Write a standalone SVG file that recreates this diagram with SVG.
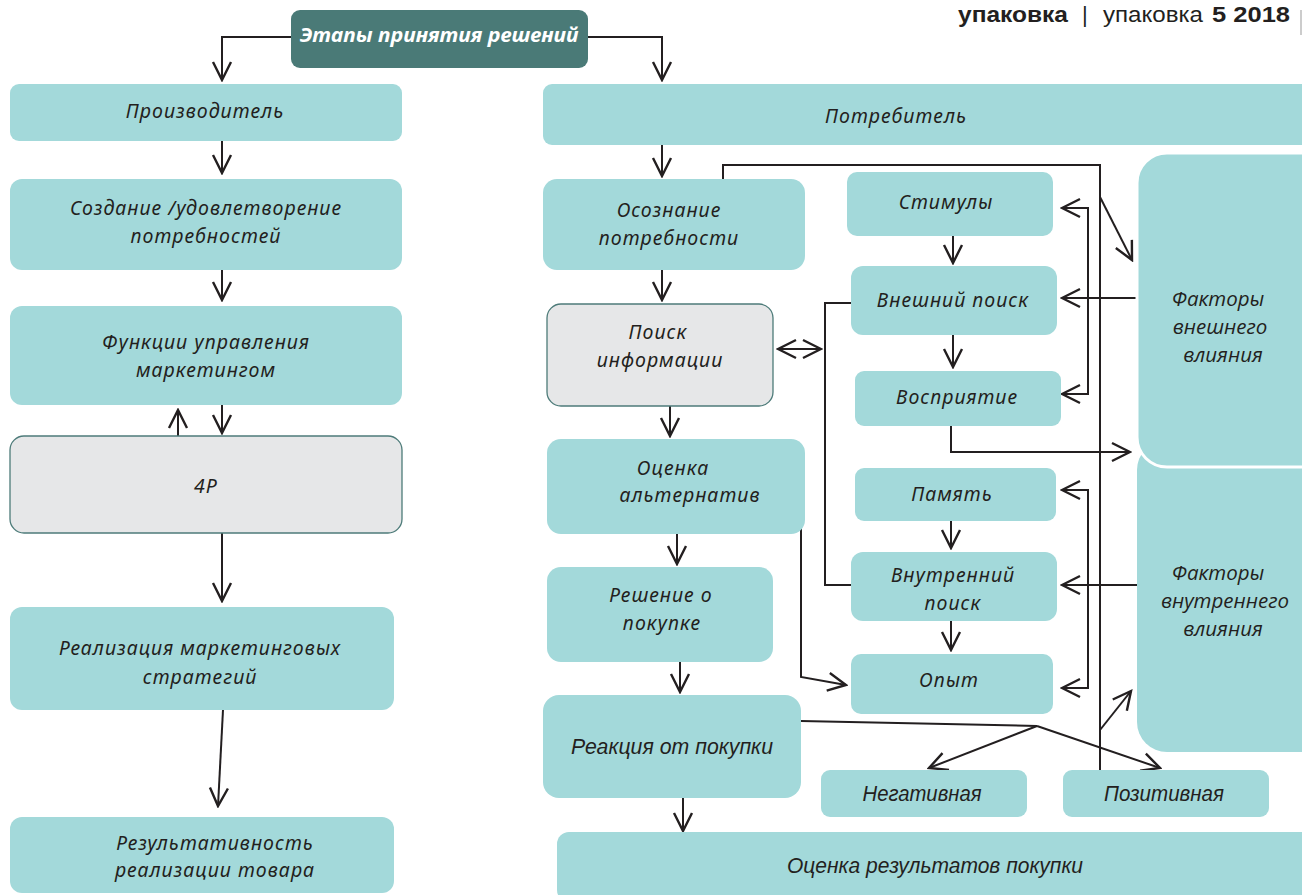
<svg xmlns="http://www.w3.org/2000/svg" width="1302" height="895" viewBox="0 0 1302 895">
<style>
.box{fill:#a3d9da;}
.gray{fill:#e6e7e8;stroke:#4d7b79;stroke-width:1.3;}
.t{font-family:"Noto Sans","Open Sans",sans-serif;font-style:italic;font-size:19.5px;letter-spacing:1px;fill:#231f20;text-anchor:middle;}
.c{font-family:"Liberation Sans","DejaVu Sans",sans-serif;font-style:italic;font-size:22px;fill:#231f20;text-anchor:middle;}
.f{font-family:"Open Sans","Noto Sans",sans-serif;font-style:italic;font-size:20.5px;fill:#231f20;text-anchor:middle;}
.ln{fill:none;stroke:#231f20;stroke-width:2;}
.hd{font-family:"Liberation Sans",sans-serif;font-size:22px;fill:#231f20;}
</style>
<defs>
<marker id="a" markerUnits="userSpaceOnUse" markerWidth="24" markerHeight="24" viewBox="-18 -10 20 20" refX="0" refY="0" orient="auto-start-reverse">
<path d="M-15,-7.5 L0,0 L-15,7.5" fill="none" stroke="#231f20" stroke-width="2"/>
</marker>
</defs>
<rect width="1302" height="895" fill="#ffffff"/>

<g id="header">
<text class="hd" x="958" y="22" font-weight="bold" textLength="110" lengthAdjust="spacingAndGlyphs">упаковка</text>
<text class="hd" x="1082" y="22">|</text>
<text class="hd" x="1103" y="22" textLength="100" lengthAdjust="spacingAndGlyphs">упаковка</text>
<text class="hd" x="1212" y="22" font-weight="bold" textLength="78" lengthAdjust="spacingAndGlyphs">5 2018</text>
<line x1="1301" y1="10" x2="1301" y2="35" stroke="#bbbbbb" stroke-width="1.5"/>
</g>

<g id="connectors">
<path class="ln" d="M291,37 H222 V80" marker-end="url(#a)"/>
<path class="ln" d="M588,37 H662 V80" marker-end="url(#a)"/>
<path class="ln" d="M222,141 V173" marker-end="url(#a)"/>
<path class="ln" d="M222,270 V300" marker-end="url(#a)"/>
<path class="ln" d="M222,405 V433" marker-end="url(#a)"/>
<path class="ln" d="M178,436 V410" marker-end="url(#a)"/>
<path class="ln" d="M222,533 V601" marker-end="url(#a)"/>
<path class="ln" d="M223,710 L218,806" marker-end="url(#a)"/>
<path class="ln" d="M662,145 V176" marker-end="url(#a)"/>
<path class="ln" d="M662,270 V300" marker-end="url(#a)"/>
<path class="ln" d="M670,406 V436" marker-end="url(#a)"/>
<path class="ln" d="M677,534 V564" marker-end="url(#a)"/>
<path class="ln" d="M680,662 V692" marker-end="url(#a)"/>
<path class="ln" d="M683,798 V831" marker-end="url(#a)"/>
<path class="ln" d="M723,179 V165 H1100 V770"/>
<path class="ln" d="M1100,197 L1132,260" marker-end="url(#a)"/>
<path class="ln" d="M953,236 V263" marker-end="url(#a)"/>
<path class="ln" d="M953,335 V367" marker-end="url(#a)"/>
<path class="ln" d="M1062,208 H1088 V394 H1062" marker-start="url(#a)" marker-end="url(#a)"/>
<path class="ln" d="M1137,298 H1062" marker-end="url(#a)"/>
<path class="ln" d="M951,426 V452 H1130" marker-end="url(#a)"/>
<path class="ln" d="M951,521 V548" marker-end="url(#a)"/>
<path class="ln" d="M951,621 V650" marker-end="url(#a)"/>
<path class="ln" d="M1062,490 H1088 V688 H1062" marker-start="url(#a)" marker-end="url(#a)"/>
<path class="ln" d="M1137,585 H1062" marker-end="url(#a)"/>
<path class="ln" d="M1100,730 L1131,691" marker-end="url(#a)"/>
<path class="ln" d="M801,721 L1037,726"/>
<path class="ln" d="M1037,726 L929,768" marker-end="url(#a)"/>
<path class="ln" d="M1037,726 L1160,768" marker-end="url(#a)"/>
<path class="ln" d="M801,528 V677 L846,685" marker-end="url(#a)"/>
<path class="ln" d="M778,349 H821" marker-start="url(#a)" marker-end="url(#a)"/>
<path class="ln" d="M851,303 H825 V585 H851"/>
</g>

<g id="title">
<rect x="291" y="10" width="297" height="58" rx="9" fill="#4a7a77"/>
<text x="439" y="42" font-family="Noto Sans,sans-serif" font-style="italic" font-weight="bold" font-size="19" fill="#ffffff" text-anchor="middle" textLength="279" lengthAdjust="spacingAndGlyphs">Этапы принятия решений</text>
</g>

<g id="proizvoditel"><rect class="box" x="10" y="84" width="392" height="57" rx="9"/><text class="t" x="205" y="118">Производитель</text></g>
<g id="sozdanie"><rect class="box" x="10" y="179" width="392" height="91" rx="12"/><text class="t" x="206" y="215">Создание /удовлетворение</text><text class="t" x="206" y="243">потребностей</text></g>
<g id="funkcii"><rect class="box" x="10" y="306" width="392" height="99" rx="12"/><text class="t" x="206" y="349">Функции  управления</text><text class="t" x="206" y="377">маркетингом</text></g>
<g id="p4"><rect class="gray" x="10" y="436" width="392" height="97" rx="14"/><text class="t" x="206" y="493">4P</text></g>
<g id="realizaciya"><rect class="box" x="10" y="607" width="384" height="103" rx="12"/><text class="t" x="200" y="655">Реализация маркетинговых</text><text class="t" x="200" y="684">стратегий</text></g>
<g id="rezultativnost"><rect class="box" x="10" y="817" width="384" height="76" rx="12"/><text class="t" x="215" y="850">Результативность</text><text class="t" x="215" y="877">реализации товара</text></g>

<g id="potrebitel"><rect class="box" x="543" y="84" width="790" height="61" rx="9"/><text class="t" x="896" y="123">Потребитель</text></g>
<g id="osoznanie"><rect class="box" x="543" y="179" width="262" height="91" rx="14"/><text class="t" x="669" y="217">Осознание</text><text class="t" x="669" y="245">потребности</text></g>
<g id="poisk"><rect class="gray" x="547" y="304" width="226" height="102" rx="14"/><text class="t" x="658" y="339">Поиск</text><text class="t" x="660" y="367">информации</text></g>
<g id="ocenka-alt"><rect class="box" x="547" y="439" width="258" height="95" rx="14"/><text class="t" x="673" y="475">Оценка</text><text class="t" x="690" y="502">альтернатив</text></g>
<g id="reshenie"><rect class="box" x="547" y="567" width="226" height="95" rx="14"/><text class="t" x="661" y="602">Решение  о</text><text class="t" x="662" y="630">покупке</text></g>
<g id="reakciya"><rect class="box" x="543" y="695" width="258" height="103" rx="16"/><text class="c" x="672" y="754" textLength="202" lengthAdjust="spacingAndGlyphs">Реакция  от покупки</text></g>
<g id="ocenka-rez"><rect class="box" x="557" y="832" width="776" height="70" rx="12"/><text class="c" x="935" y="873" textLength="296" lengthAdjust="spacingAndGlyphs">Оценка  результатов покупки</text></g>

<g id="stimuly"><rect class="box" x="847" y="172" width="206" height="64" rx="10"/><text class="t" x="946" y="209">Стимулы</text></g>
<g id="vneshniy"><rect class="box" x="851" y="266" width="206" height="69" rx="12"/><text class="t" x="953" y="307">Внешний  поиск</text></g>
<g id="vospriyatie"><rect class="box" x="855" y="371" width="206" height="55" rx="9"/><text class="t" x="957" y="404">Восприятие</text></g>
<g id="pamyat"><rect class="box" x="855" y="468" width="201" height="53" rx="9"/><text class="t" x="952" y="501">Память</text></g>
<g id="vnutrenniy"><rect class="box" x="851" y="552" width="206" height="69" rx="12"/><text class="t" x="953" y="582">Внутренний</text><text class="t" x="953" y="610">поиск</text></g>
<g id="opyt"><rect class="box" x="851" y="654" width="202" height="60" rx="10"/><text class="t" x="949" y="687">Опыт</text></g>
<g id="negativnaya"><rect class="box" x="821" y="770" width="206" height="47" rx="9"/><text class="c" x="922" y="801" textLength="119" lengthAdjust="spacingAndGlyphs">Негативная</text></g>
<g id="pozitivnaya"><rect class="box" x="1063" y="770" width="206" height="47" rx="9"/><text class="c" x="1164" y="801" textLength="120" lengthAdjust="spacingAndGlyphs">Позитивная</text></g>

<g id="faktory-vnutr"><rect class="box" x="1137" y="440" width="200" height="312" rx="30"/><text class="f" x="1218" y="580">Факторы</text><text class="f" x="1225" y="608">внутреннего</text><text class="f" x="1223" y="636">влияния</text></g>
<g id="faktory-vnesh"><rect class="box" x="1137" y="153" width="200" height="314" rx="30" stroke="#ffffff" stroke-width="3"/><text class="f" x="1218" y="306">Факторы</text><text class="f" x="1220" y="334">внешнего</text><text class="f" x="1223" y="362">влияния</text></g>
</svg>
